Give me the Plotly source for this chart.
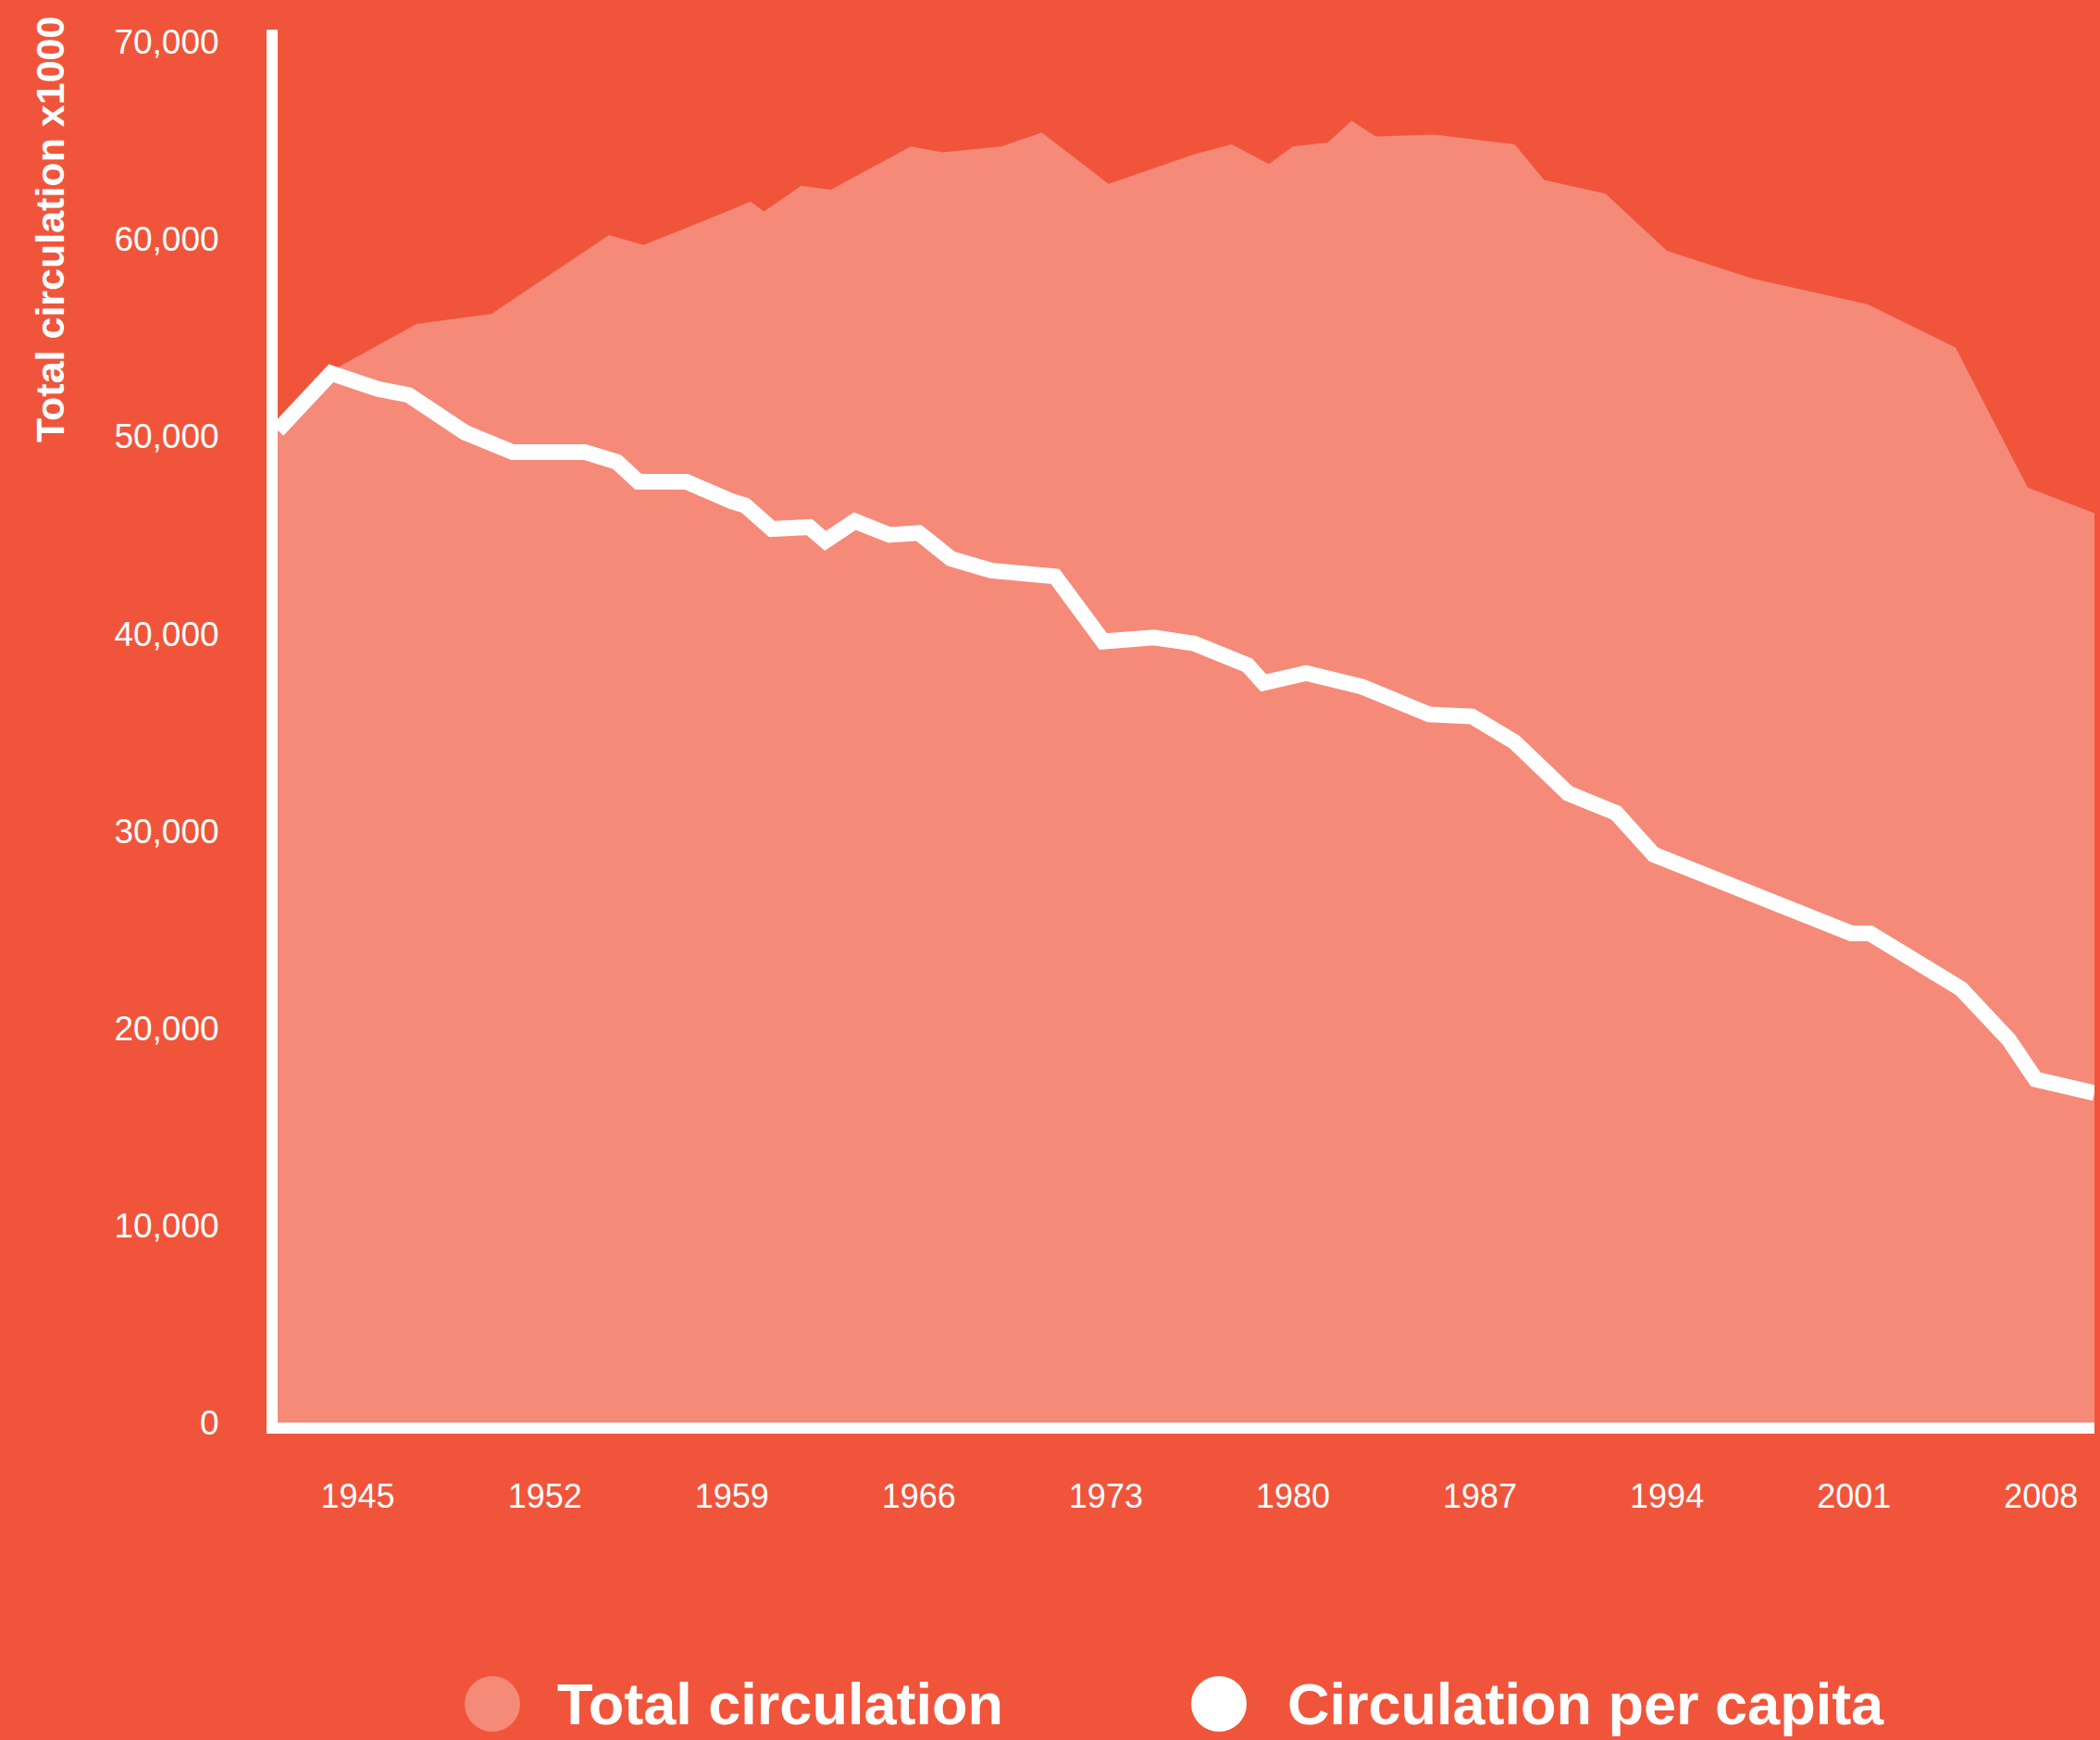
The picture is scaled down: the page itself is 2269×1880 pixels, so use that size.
import plotly.graph_objects as go

# ---- data ----
total_years = [1942.0, 1944.0, 1947.2, 1950.0, 1954.4, 1955.7, 1959.0, 1959.7, 1960.2,
               1961.6, 1962.7, 1965.7, 1966.9, 1969.1, 1970.6, 1973.1, 1976.3, 1977.7,
               1979.1, 1980.0, 1981.3, 1982.2, 1983.1, 1985.3, 1988.3, 1989.4, 1991.7,
               1994.0, 1997.2, 2001.5, 2004.8, 2007.5, 2010.0]
total_circulation = [50300, 53300, 55700, 56200, 60200, 59700, 61500, 61900, 61400,
                     62700, 62500, 64700, 64400, 64700, 65400, 62800, 64300, 64800,
                     63800, 64700, 64900, 66000, 65200, 65300, 64800, 63000, 62300,
                     59400, 58000, 56700, 54500, 47400, 46100]

capita_years = [1942.0, 1944.0, 1945.75, 1946.9, 1949.0, 1950.8, 1953.5, 1954.7, 1955.5,
                1957.3, 1959.0, 1959.5, 1960.5, 1961.9, 1962.5, 1963.6, 1964.9, 1966.0,
                1967.2, 1968.7, 1971.1, 1972.9, 1974.8, 1976.3, 1978.3, 1978.9, 1980.5,
                1982.6, 1985.1, 1986.7, 1988.3, 1990.3, 1992.1, 1993.5, 2000.9, 2001.6,
                2005.0, 2006.8, 2007.8, 2010.0]
circulation_per_capita = [50300, 53200, 52400, 52100, 50200, 49200, 49200, 48700, 47700,
                          47700, 46700, 46500, 45300, 45400, 44700, 45700, 45000, 45100,
                          43800, 43200, 42900, 39600, 39800, 39500, 38400, 37500, 38000,
                          37300, 35900, 35800, 34500, 31900, 30900, 28800, 24800, 24800,
                          22000, 19400, 17400, 16700]

x_tick_years = [1945, 1952, 1959, 1966, 1973, 1980, 1987, 1994, 2001, 2008]
y_tick_values = [0, 10000, 20000, 30000, 40000, 50000, 60000, 70000]

series_names = ["Total circulation", "Circulation per capita"]
y_title = "Total circulation x1000"

# ---- styles ----
BG = "#F0553B"
PINK = "#F58A79"
WHITE = "#FFFFFF"
FONT = "Liberation Sans"

W, H = 2269, 1880
L, R, T, B = 300, 6, 32, 343
plot_w = W - L - R
plot_h = H - T - B


def px_to_paper_x(px):
    return (px - L) / plot_w


def px_to_paper_y(py):
    return (H - B - py) / plot_h


fig = go.Figure()
fig.add_trace(go.Scatter(
    x=total_years, y=total_circulation, mode="lines", name=series_names[0],
    fill="tozeroy", fillcolor=PINK, line=dict(width=0, color=PINK),
    showlegend=False))
fig.add_trace(go.Scatter(
    x=capita_years, y=circulation_per_capita, mode="lines", name=series_names[1],
    line=dict(width=17, color=WHITE), showlegend=False))

fig.update_layout(
    width=W, height=H,
    margin=dict(l=L, r=R, t=T, b=B, pad=0),
    paper_bgcolor=BG, plot_bgcolor=BG,
    showlegend=False,
    font=dict(family=FONT, color=WHITE),
)
fig.update_xaxes(
    range=[1942, 2010], tickvals=x_tick_years, ticktext=[str(y) for y in x_tick_years],
    showgrid=False, zeroline=False, showline=True, linecolor=WHITE, linewidth=12,
    ticks="outside", ticklen=37, tickcolor="rgba(0,0,0,0)",
    tickfont=dict(family=FONT, size=36, color=WHITE))
fig.update_yaxes(
    range=[0, 70620], tickvals=y_tick_values, tickformat=",d",
    showgrid=False, zeroline=False, showline=True, linecolor=WHITE, linewidth=12,
    ticks="outside", ticklen=44, tickcolor="rgba(0,0,0,0)",
    tickfont=dict(family=FONT, size=37, color=WHITE))

# y-axis title, top aligned
fig.add_annotation(
    text=y_title, xref="paper", yref="paper",
    x=px_to_paper_x(54), y=px_to_paper_y(16), xanchor="center", yanchor="top",
    textangle=-90, showarrow=False,
    font=dict(family=FONT, size=43, color=WHITE, weight=700))

# custom legend (large circles)
legend_y = px_to_paper_y(1841)
legend_items = [(532, 600, PINK, series_names[0]), (1317, 1389, WHITE, series_names[1])]
for cx, tx, col, name in legend_items:
    fig.add_shape(
        type="circle", xref="paper", yref="paper",
        xsizemode="pixel", ysizemode="pixel",
        xanchor=px_to_paper_x(cx), yanchor=legend_y,
        x0=-30, x1=30, y0=-30, y1=30,
        fillcolor=col, line=dict(width=0))
    fig.add_annotation(
        text=name, xref="paper", yref="paper",
        x=px_to_paper_x(tx), y=legend_y, xanchor="left", yanchor="middle",
        showarrow=False,
        font=dict(family=FONT, size=63, color=WHITE, weight=700))

fig.write_html(
    "out.html",
    config={"displayModeBar": False},
    post_script="document.body.style.margin='0';document.body.style.padding='0';"
                "document.body.style.background='" + BG + "';",
)
